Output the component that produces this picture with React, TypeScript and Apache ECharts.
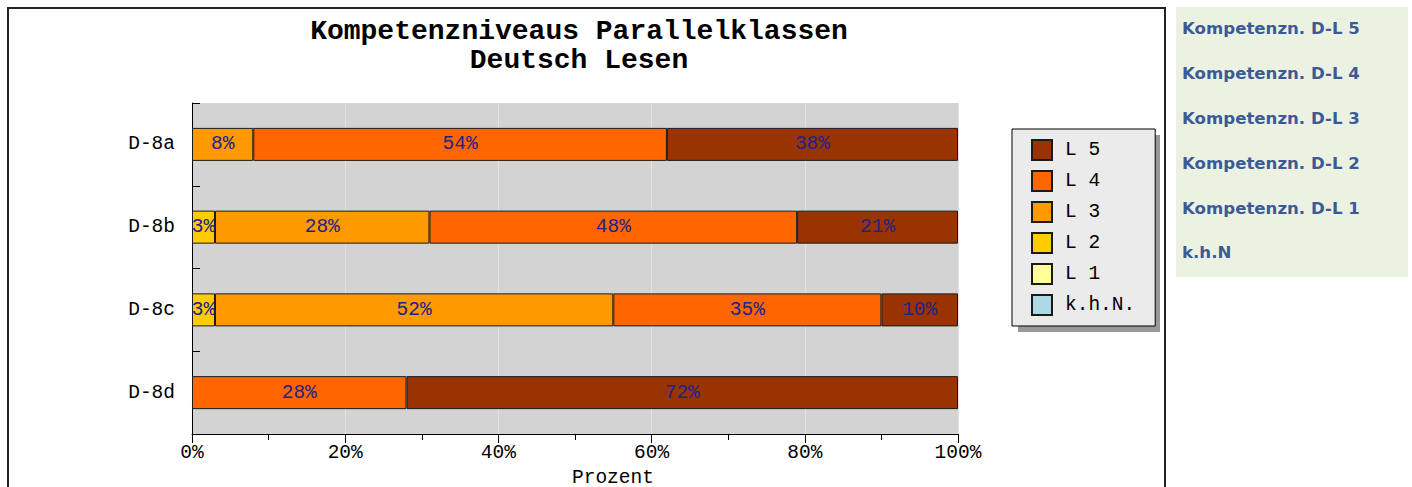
import React, { useEffect, useRef } from "react";
import * as echarts from "echarts";

const categories = ["D-8a", "D-8b", "D-8c", "D-8d"];
const seriesNames = ["k.h.N.", "L 1", "L 2", "L 3", "L 4", "L 5"];
const khN: (number | null)[] = [null, null, null, null];
const L1: (number | null)[] = [null, null, null, null];
const L2: (number | null)[] = [null, 3, 3, null];
const L3: (number | null)[] = [8, 28, 52, null];
const L4: (number | null)[] = [54, 48, 35, 28];
const L5: (number | null)[] = [38, 21, 10, 72];
const seriesColors = ["#add8e6", "#ffff99", "#ffcc00", "#ff9900", "#ff6600", "#993300"];
const legendOrder = ["L 5", "L 4", "L 3", "L 2", "L 1", "k.h.N."];
const titleLines = ["Kompetenzniveaus Parallelklassen", "Deutsch Lesen"];
const sideLinks = [
  "Kompetenzn. D-L 5",
  "Kompetenzn. D-L 4",
  "Kompetenzn. D-L 3",
  "Kompetenzn. D-L 2",
  "Kompetenzn. D-L 1",
  "k.h.N",
];

const MONO = "'Liberation Mono', 'DejaVu Sans Mono', monospace";

export default function App() {
  const ref = useRef<HTMLDivElement>(null);
  useEffect(() => {
    if (!ref.current) return;
    const chart = echarts.init(ref.current, undefined, { renderer: "svg" });
    const values = [khN, L1, L2, L3, L4, L5];
    const graphics: any[] = [
      {
        type: "rect",
        z: 0,
        shape: { x: 8, y: 8, width: 1157, height: 500 },
        style: { fill: "none", stroke: "#222", lineWidth: 2 },
      },
      {
        type: "rect",
        z: 0,
        shape: { x: 1018, y: 135, width: 142, height: 197 },
        style: { fill: "#999999" },
      },
      {
        type: "rect",
        z: 0,
        shape: { x: 1176, y: 7, width: 232, height: 270 },
        style: { fill: "#ecf2e2" },
      },
    ];
    titleLines.forEach((t, i) => {
      graphics.push({
        type: "text",
        z: 5,
        x: 579,
        y: 31 + i * 29,
        style: {
          text: t,
          align: "center",
          verticalAlign: "middle",
          font: `bold 28px ${MONO}`,
          lineHeight: 28,
          fill: "#000",
        },
      });
    });
    sideLinks.forEach((t, i) => {
      graphics.push({
        type: "text",
        z: 5,
        x: 1182,
        y: [28, 73, 118, 163, 208, 252][i],
        style: {
          text: t,
          align: "left",
          verticalAlign: "middle",
          font: "bold 16.6px 'DejaVu Sans', Verdana, sans-serif",
          fill: "#3b5a98",
        },
      });
    });

    chart.setOption({
      animation: false,
      graphic: graphics,
      legend: {
        data: legendOrder,
        orient: "vertical",
        left: 1012,
        top: 129,
        z: 10,
        itemWidth: 20,
        itemHeight: 20,
        itemGap: 9,
        padding: [10, 20, 10, 19],
        backgroundColor: "#ebebeb",
        borderColor: "#000",
        borderWidth: 1,
        selectedMode: false,
        icon: "rect",
        textStyle: {
          fontFamily: MONO,
          fontSize: 19.5,
          color: "#000",
          padding: [0, 0, 0, 8],
        },
      },
      grid: {
        left: 192,
        right: 454,
        top: 103,
        bottom: 53,
        show: true,
        backgroundColor: "#d3d3d3",
        borderWidth: 0,
        containLabel: false,
        outerBoundsMode: "none",
      },
      xAxis: {
        type: "value",
        min: 0,
        max: 100,
        interval: 20,
        name: "Prozent",
        nameLocation: "middle",
        nameGap: 32,
        nameTextStyle: {
          fontFamily: MONO,
          fontSize: 19.5,
          color: "#000",
          align: "left",
          padding: [0, 0, 0, -3],
        },
        axisLine: { show: true, lineStyle: { color: "#000", width: 1 } },
        axisTick: { show: true, length: 9, lineStyle: { color: "#000" } },
        minorTick: { show: true, splitNumber: 2, length: 6, lineStyle: { color: "#000" } },
        splitLine: { show: true, lineStyle: { color: "#e2e2e2", width: 1 } },
        axisLabel: {
          formatter: "{value}%",
          fontFamily: MONO,
          fontSize: 19.5,
          color: "#000",
          margin: 9,
        },
      },
      yAxis: {
        type: "category",
        data: categories,
        inverse: true,
        axisLine: { show: true, lineStyle: { color: "#000", width: 1 } },
        axisTick: { show: true, inside: true, length: 8, lineStyle: { color: "#000" } },
        axisLabel: {
          fontFamily: MONO,
          fontSize: 19.5,
          color: "#000",
          margin: 17,
        },
        splitLine: { show: false },
      },
      series: seriesNames.map((name, i) => ({
        name,
        type: "bar",
        stack: "total",
        barWidth: 33,
        data: values[i],
        itemStyle: {
          color: seriesColors[i],
          borderColor: "#1a1a1a",
          borderWidth: 1,
        },
        label: {
          show: true,
          position: "inside",
          formatter: (p: any) => (p.value == null ? "" : p.value + "%"),
          fontFamily: MONO,
          fontSize: 19.5,
          color: "#22228b",
        },
      })),
    });
    return () => chart.dispose();
  }, []);
  return (
    <div
      ref={ref}
      style={{ position: "fixed", left: 0, top: 0, width: 1412, height: 487, background: "#fff" }}
    />
  );
}
